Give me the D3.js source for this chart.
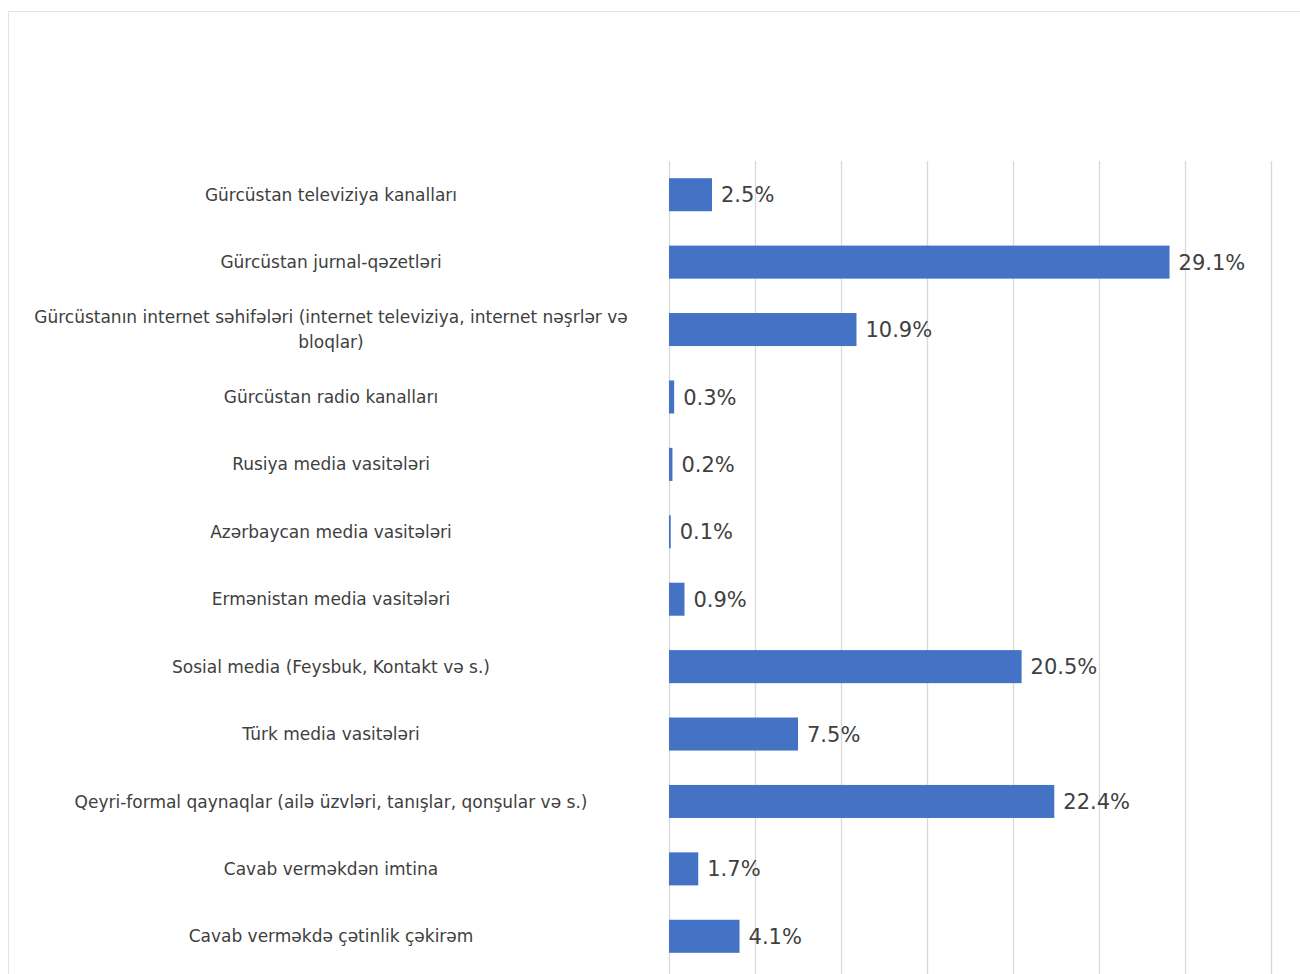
<!DOCTYPE html>
<html>
<head>
<meta charset="utf-8">
<script src="https://cdn.jsdelivr.net/npm/d3@7"></script>
<style>
  body { margin: 0; background: #fff; }
  svg { display: block; }
</style>
</head>
<body>
<svg id="chart" width="1300" height="974"></svg>
<script>
var categories = [
  "Gürcüstan televiziya kanalları",
  "Gürcüstan jurnal-qəzetləri",
  "Gürcüstanın internet səhifələri (internet televiziya, internet nəşrlər və bloqlar)",
  "Gürcüstan radio kanalları",
  "Rusiya media vasitələri",
  "Azərbaycan media vasitələri",
  "Ermənistan media vasitələri",
  "Sosial media (Feysbuk, Kontakt və s.)",
  "Türk media vasitələri",
  "Qeyri-formal qaynaqlar (ailə üzvləri, tanışlar, qonşular və s.)",
  "Cavab verməkdən imtina",
  "Cavab verməkdə çətinlik çəkirəm"
];
var values = [2.5, 29.1, 10.9, 0.3, 0.2, 0.1, 0.9, 20.5, 7.5, 22.4, 1.7, 4.1];
var gridTicks = [0, 5, 10, 15, 20, 25, 30, 35];

var svg = d3.select("#chart");
var margin = {left: 669, right: 29, top: 161, bottom: 4};
var width = 1300, height = 974;

// outer frame
svg.append("rect")
  .attr("x", 8.5).attr("y", 11.5)
  .attr("width", 1300).attr("height", 1000)
  .attr("fill", "none")
  .attr("stroke", "#e3e3e3");

var x = d3.scaleLinear()
  .domain([0, 35])
  .range([margin.left, width - margin.right]);

var y = d3.scaleBand()
  .domain(categories)
  .range([margin.top, height - margin.bottom])
  .paddingInner(0.51)
  .paddingOuter(0.255);

// gridlines
svg.append("g")
  .selectAll("line")
  .data(gridTicks)
  .enter().append("line")
  .attr("x1", function(d) { return Math.round(x(d)) + 0.5; })
  .attr("x2", function(d) { return Math.round(x(d)) + 0.5; })
  .attr("y1", margin.top)
  .attr("y2", height)
  .attr("stroke", "#d9d9d9")
  .attr("stroke-width", 1.3);

var data = categories.map(function(c, i) { return {cat: c, val: values[i]}; });

svg.append("g")
  .selectAll("rect")
  .data(data)
  .enter().append("rect")
  .attr("x", x(0))
  .attr("y", function(d) { return y(d.cat); })
  .attr("width", function(d) { return x(d.val) - x(0); })
  .attr("height", y.bandwidth())
  .attr("fill", "#4472c4");

svg.append("g")
  .selectAll("text")
  .data(data)
  .enter().append("text")
  .attr("x", function(d) { return x(d.val) + 9; })
  .attr("y", function(d) { return y(d.cat) + y.bandwidth() / 2; })
  .attr("dy", "0.36em")
  .style("font-family", "DejaVu Sans")
  .style("font-size", "21px")
  .style("fill", "#404040")
  .text(function(d) { return d.val.toFixed(1) + "%"; });

// category labels, wrapped and centred
var labelX = 331, maxW = 615, lineH = 25;
var labels = svg.append("g")
  .style("font-family", "DejaVu Sans")
  .style("font-size", "17px")
  .style("fill", "#404040")
  .attr("text-anchor", "middle");

data.forEach(function(d) {
  var t = labels.append("text").attr("x", labelX);
  var words = d.cat.split(" ");
  var lines = [], line = [];
  var probe = t.append("tspan");
  words.forEach(function(w) {
    line.push(w);
    probe.text(line.join(" "));
    if (probe.node().getComputedTextLength() > maxW && line.length > 1) {
      line.pop();
      lines.push(line.join(" "));
      line = [w];
    }
  });
  lines.push(line.join(" "));
  probe.remove();
  var cy = y(d.cat) + y.bandwidth() / 2;
  var y0 = cy - (lines.length - 1) * lineH / 2;
  lines.forEach(function(l, i) {
    t.append("tspan")
      .attr("x", labelX)
      .attr("y", y0 + i * lineH)
      .attr("dy", "0.36em")
      .text(l);
  });
});
</script>
</body>
</html>
